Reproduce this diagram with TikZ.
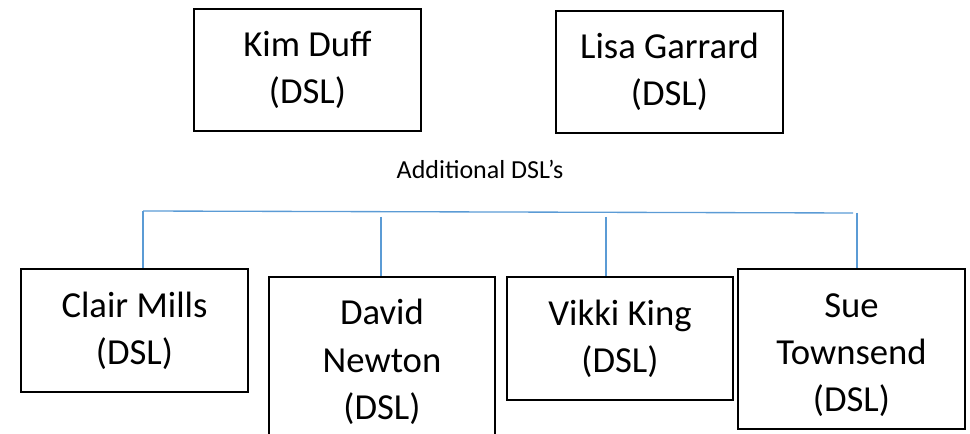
\documentclass[tikz,border=0pt]{standalone}
\usepackage{fontspec}
\setmainfont{Carlito}
\usetikzlibrary{positioning}
\definecolor{linkblue}{HTML}{5B9BD5}

\begin{document}
\begin{tikzpicture}[x=0.75pt, y=-0.75pt,
        dsl/.style={draw, line width=1.5pt, align=center, inner sep=0pt,
            minimum width=170.25pt, font=\fontsize{27.5}{35.5}\selectfont},
        link/.style={linkblue, line width=1pt}]
        \useasboundingbox (0,0) rectangle (970,434);
        % top row
        \node[dsl, minimum height=91.5pt] (kim) at (307.5,70) {Kim Duff\\(DSL)};
        \node[dsl, minimum height=91.5pt] (lisa) at (669.5,72) {Lisa Garrard\\(DSL)};
        \node[anchor=base, inner sep=0pt, font=\fontsize{19.5}{24}\selectfont] (extra) at (480,179) {Additional DSL’s};
        % bottom row
        \node[dsl, minimum height=92.25pt] (clair) at (134.5,330.5) {Clair Mills\\(DSL)};
        \node[dsl, minimum width=169.5pt, minimum height=127.5pt] (david) at (382,362) {David\\Newton\\(DSL)};
        \node[dsl, minimum width=169.5pt, minimum height=92.25pt] (vikki) at (620,338.5) {Vikki King\\(DSL)};
        \node[dsl, minimum height=120pt, text height=98pt] (sue) at (851.5,349) {Sue\\Townsend\\(DSL)};
        % connectors
        \coordinate (busL) at (143,211);
        \coordinate (busR) at (853,213);
        \coordinate (dn) at (381,217);
        \coordinate (vk) at (606,217);
        \coordinate (st) at (857,213);
        \draw[link] (busL) -- (busR);
        \draw[link] (busL) -- (busL |- clair.north);
        \draw[link] (dn) -- (dn |- david.north);
        \draw[link] (vk) -- (vk |- vikki.north);
        \draw[link] (st) -- (st |- sue.north);
    \end{tikzpicture}
\end{document}
